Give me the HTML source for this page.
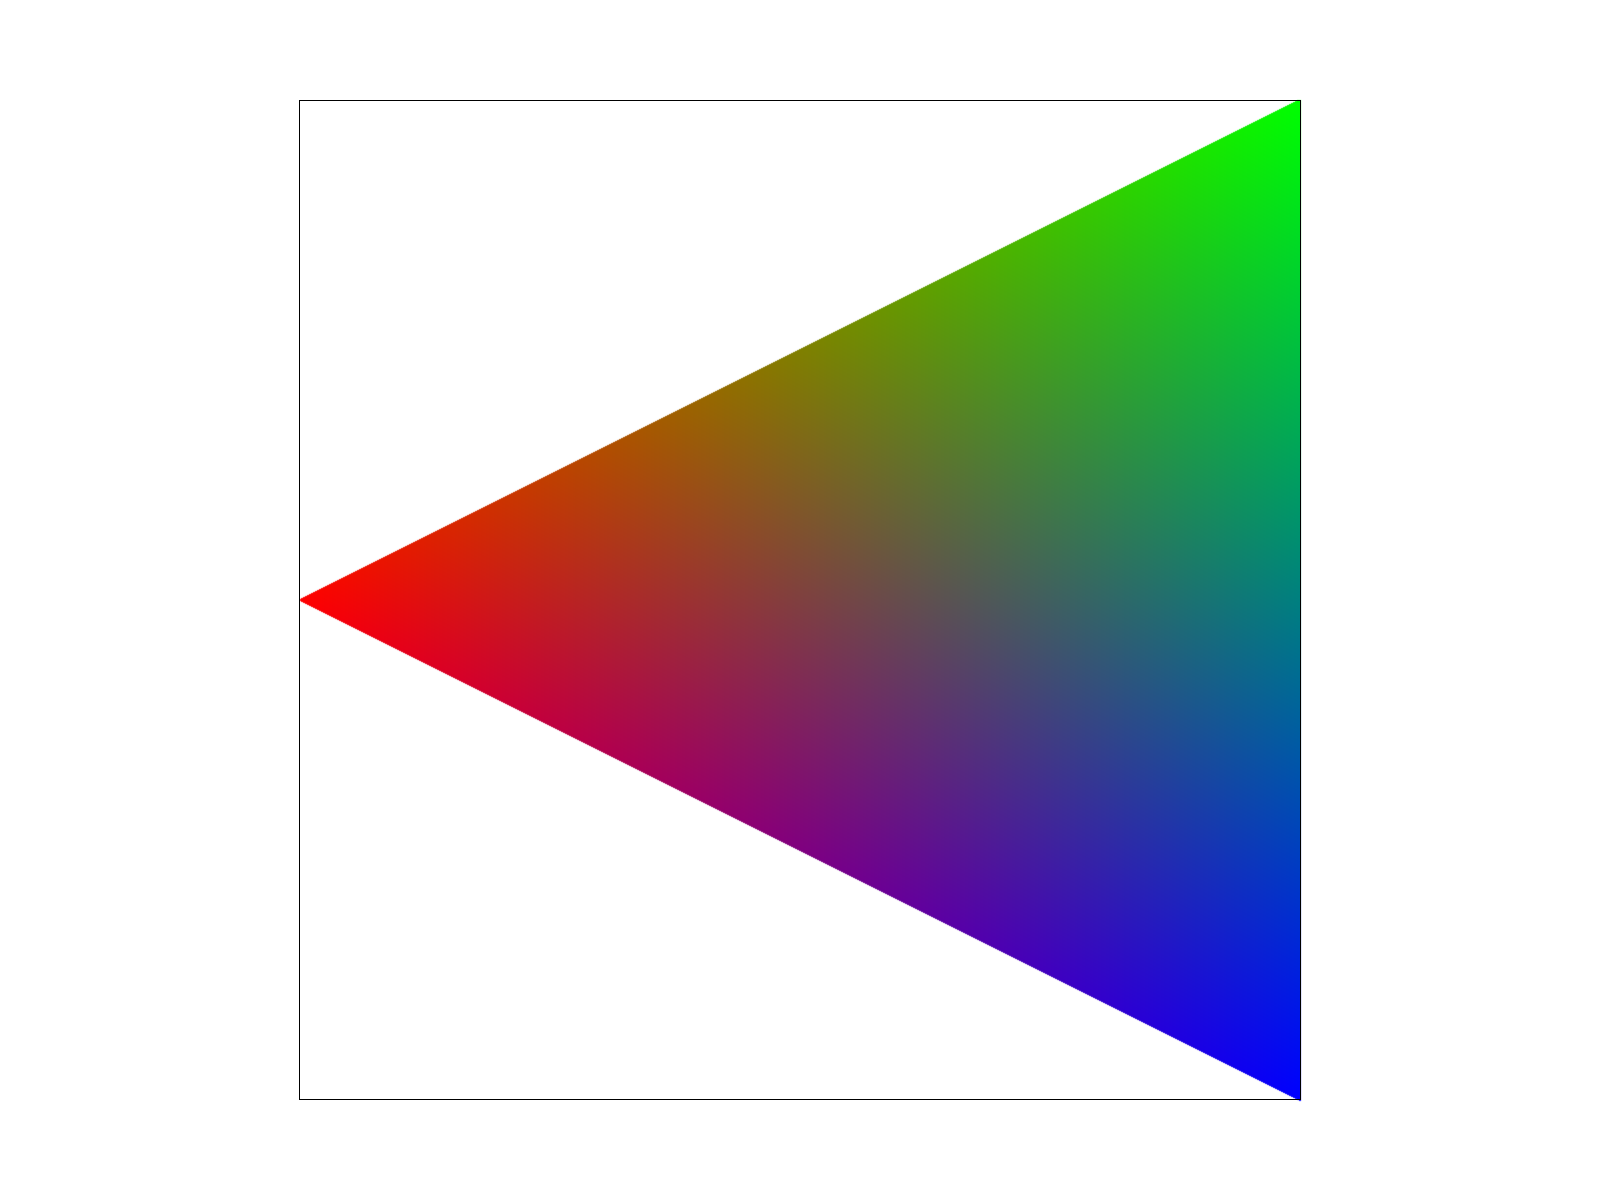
<!DOCTYPE html>
<html><head><meta charset="utf-8"><style>
html,body{margin:0;padding:0;background:#fff;}
#wrap{position:relative;width:1600px;height:1200px;}
canvas{position:absolute;left:0;top:0;}
#frame{position:absolute;left:299px;top:100px;width:1000px;height:998px;border:1.5px solid #000;box-sizing:content-box;}
</style></head><body>
<div id="wrap">
<canvas id="c" width="1600" height="1200"></canvas>
<div id="frame"></div>
</div>
<script>
const vertexX = [0, 1, 1];
const vertexY = [0.5, 1, 0];
const vertexR = [255, 0, 0];
const vertexG = [0, 255, 0];
const vertexB = [0, 0, 255];
const xDomain = [0, 1];
const yDomain = [0, 1];

const L = 300, R = 1300, T = 100, B = 1100;
function sx(v){ return L + (v - xDomain[0]) / (xDomain[1] - xDomain[0]) * (R - L); }
function sy(v){ return B - (v - yDomain[0]) / (yDomain[1] - yDomain[0]) * (B - T); }

const cv = document.getElementById('c');
const ctx = cv.getContext('2d');
const img = ctx.createImageData(1600, 1200);
const px = vertexX.map(sx), py = vertexY.map(sy);
const [x0,x1,x2] = px, [y0,y1,y2] = py;
const den = (y1 - y2) * (x0 - x2) + (x2 - x1) * (y0 - y2);
const minX = Math.floor(Math.min(...px)), maxX = Math.ceil(Math.max(...px));
const minY = Math.floor(Math.min(...py)), maxY = Math.ceil(Math.max(...py));
for (let y = minY; y <= maxY; y++) {
  for (let x = minX; x <= maxX; x++) {
    const X = x + 0.5, Y = y + 0.5;
    const a = ((y1 - y2) * (X - x2) + (x2 - x1) * (Y - y2)) / den;
    const b = ((y2 - y0) * (X - x2) + (x0 - x2) * (Y - y2)) / den;
    const c = 1 - a - b;
    if (a < -0.001 || b < -0.001 || c < -0.001) continue;
    if (x < 0 || x >= 1600 || y < 0 || y >= 1200) continue;
    const i = (y * 1600 + x) * 4;
    img.data[i] = a * vertexR[0] + b * vertexR[1] + c * vertexR[2];
    img.data[i+1] = a * vertexG[0] + b * vertexG[1] + c * vertexG[2];
    img.data[i+2] = a * vertexB[0] + b * vertexB[1] + c * vertexB[2];
    img.data[i+3] = 255;
  }
}
ctx.fillStyle = '#fff';
ctx.fillRect(0,0,1600,1200);
const tmp = document.createElement('canvas');
tmp.width = 1600; tmp.height = 1200;
tmp.getContext('2d').putImageData(img, 0, 0);
ctx.drawImage(tmp, 0, 0);
</script>
</body></html>
